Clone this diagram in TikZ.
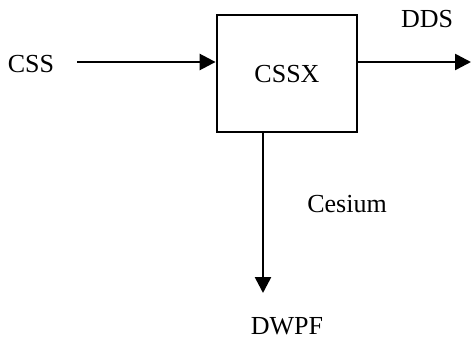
\documentclass[tikz,border=0pt]{standalone}
\usepackage{fontspec}
\setmainfont{Liberation Serif}
\usetikzlibrary{arrows.meta}
\begin{document}
\begin{tikzpicture}[x=1pt, y=-1pt, every node/.style={font=\fontsize{26}{30}\selectfont},
  flow/.style={line width=2.6pt, -{Triangle[length=16pt,width=16pt]}}]
  \useasboundingbox (0,0) rectangle (473,339);
  % Extraction unit
  \node[draw, line width=2.8pt, minimum width=140pt, minimum height=117pt,
        text depth=0pt] (unit) at (287,73.5) {CSSX};

  % Streams
  \node[anchor=base] (css) at (31,73) {CSS};
  \node[anchor=base] (dds) at (427,28) {DDS};
  \node[anchor=base] (cesium) at (347,212) {Cesium};
  \node[anchor=base, inner sep=1pt] (dwpf) at (287,334) {DWPF};
  \coordinate (feed) at (77,62);
  \coordinate (out) at (471,62);
  \coordinate (down) at (263,293);

  \draw[flow] (feed) -- (feed -| unit.west);
  \draw[flow] (unit.east |- out) -- (out);
  \draw[flow] (unit.south -| down) -- (down);
\end{tikzpicture}
\end{document}
